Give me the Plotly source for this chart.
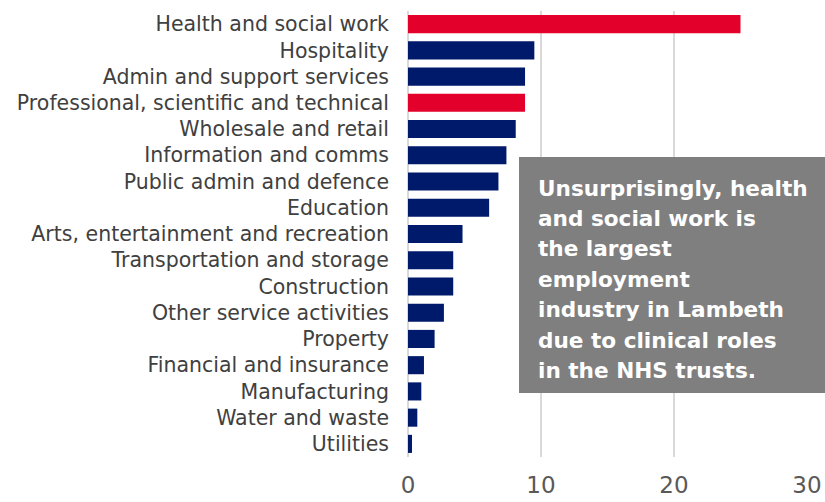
import plotly.graph_objects as go

industries = [
    "Health and social work",
    "Hospitality",
    "Admin and support services",
    "Professional, scientific and technical",
    "Wholesale and retail",
    "Information and comms",
    "Public admin and defence",
    "Education",
    "Arts, entertainment and recreation",
    "Transportation and storage",
    "Construction",
    "Other service activities",
    "Property",
    "Financial and insurance",
    "Manufacturing",
    "Water and waste",
    "Utilities",
]
share = [25.0, 9.5, 8.8, 8.8, 8.1, 7.4, 6.8, 6.1, 4.1, 3.4, 3.4, 2.7, 2.0, 1.2, 1.0, 0.7, 0.3]
highlighted = {"Health and social work", "Professional, scientific and technical"}
x_ticks = [0, 10, 20, 30]
callout_lines = [
    "Unsurprisingly, health",
    "and social work is",
    "the largest",
    "employment",
    "industry in Lambeth",
    "due to clinical roles",
    "in the NHS trusts.",
]

RED = "#E3002B"
NAVY = "#001A6B"
colors = [RED if name in highlighted else NAVY for name in industries]

fig = go.Figure(
    go.Bar(
        x=share,
        y=industries,
        orientation="h",
        marker=dict(color=colors, line=dict(width=0)),
        hoverinfo="x+y",
    )
)

# plot area in pixels: x 408..807, y 11..457
L, R, T, B = 408, 18, 11, 45
W, H = 825, 502
PW, PH = W - L - R, H - T - B


def px_x(p):
    return (p - L) / PW


def px_y(p):
    return (H - B - p) / PH


fig.update_layout(
    width=W,
    height=H,
    margin=dict(l=L, r=R, t=T, b=B),
    paper_bgcolor="white",
    plot_bgcolor="white",
    bargap=0.31,
    showlegend=False,
    font=dict(family="DejaVu Sans", color="#404040"),
)

fig.update_xaxes(
    range=[0, 30],
    tickvals=x_ticks,
    showgrid=True,
    gridcolor="#D9D9D9",
    gridwidth=2,
    zeroline=True,
    zerolinecolor="#D9D9D9",
    zerolinewidth=2,
    showline=False,
    tickfont=dict(size=23, color="#595959"),
    ticklabelstandoff=12,
    automargin=False,
)

fig.update_yaxes(
    categoryorder="array",
    categoryarray=industries,
    autorange="reversed",
    showgrid=False,
    showline=False,
    tickfont=dict(size=20.5, color="#404040"),
    ticklabelstandoff=18,
    automargin=False,
)

# Callout box
fig.add_shape(
    type="rect",
    xref="paper", yref="paper",
    x0=px_x(519), x1=px_x(830),
    y0=px_y(393), y1=px_y(157),
    fillcolor="#7F7F7F",
    line=dict(width=0),
    layer="above",
)
for i, line in enumerate(callout_lines):
    fig.add_annotation(
        xref="paper", yref="paper",
        x=px_x(536), y=px_y(188 + 30.4 * i),
        xanchor="left", yanchor="middle",
        align="left",
        showarrow=False,
        text=line,
        font=dict(family="DejaVu Sans", size=21.6, color="white", weight="bold"),
    )

fig.write_html("out.html")
